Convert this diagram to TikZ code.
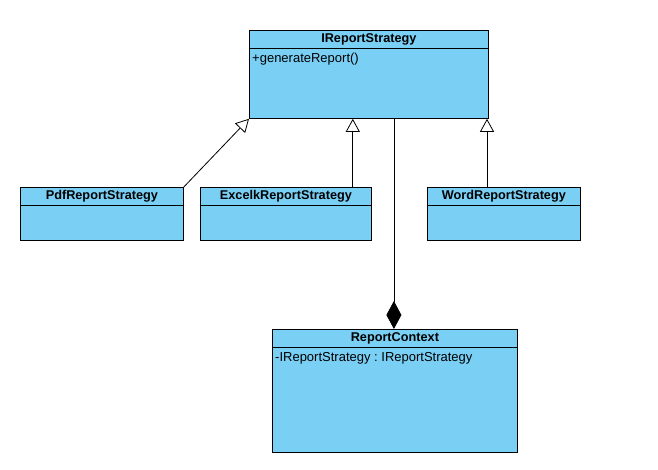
\documentclass[tikz,border=0pt]{standalone}
\usepackage{fontspec}
\setmainfont{Liberation Sans}
\usetikzlibrary{arrows.meta, positioning}
\definecolor{classblue}{RGB}{122,207,245}
\frenchspacing

\begin{document}
\begin{tikzpicture}[x=1pt, y=-1pt,
        cls/.style={draw, fill=classblue, line width=0.8pt, anchor=north west, inner sep=0pt},
        ctitle/.style={font=\fontsize{12.7}{14}\selectfont\bfseries, inner sep=0pt},
        cmember/.style={font=\fontsize{13}{15}\selectfont, anchor=north west, inner sep=0pt},
        hline/.style={line width=0.8pt},
        inherit/.style={-{Triangle[open, fill=white, length=13pt, width=14pt]}, line width=0.8pt},
        compose/.style={-{Diamond[length=28pt, width=15pt]}, line width=0.8pt},
    ]

    \path[use as bounding box, fill=white] (0,0) rectangle (658,469);

    % ---- Strategy interface ----
    \node[cls, minimum width=239pt, minimum height=88pt] (strategy) at (249,30) {};
    \node[ctitle] (strategy-name) at ([yshift=-9.5pt]strategy.north) {IReportStrategy};
    \draw[hline] ([yshift=-18pt]strategy.north west) -- ([yshift=-18pt]strategy.north east);
    \node[cmember] (strategy-op) at ([xshift=3pt, yshift=-23pt]strategy.north west) {+generateReport()};

    % ---- Concrete strategies ----
    \node[cls, minimum width=163pt, minimum height=53pt] (pdf) at (20,187) {};
    \node[ctitle] (pdf-name) at ([yshift=-9.5pt]pdf.north) {PdfReportStrategy};
    \draw[hline] ([yshift=-18pt]pdf.north west) -- ([yshift=-18pt]pdf.north east);

    \node[cls, minimum width=171pt, minimum height=53pt] (excel) at (200,187) {};
    \node[ctitle] (excel-name) at ([yshift=-9.5pt]excel.north) {ExcelkReportStrategy};
    \draw[hline] ([yshift=-18pt]excel.north west) -- ([yshift=-18pt]excel.north east);

    \node[cls, minimum width=153pt, minimum height=53pt] (word) at (427,187) {};
    \node[ctitle] (word-name) at ([yshift=-9.5pt]word.north) {WordReportStrategy};
    \draw[hline] ([yshift=-18pt]word.north west) -- ([yshift=-18pt]word.north east);

    % ---- Context ----
    \node[cls, minimum width=245pt, minimum height=123pt] (context) at (272,329) {};
    \node[ctitle] (context-name) at ([yshift=-9.5pt]context.north) {ReportContext};
    \draw[hline] ([yshift=-18pt]context.north west) -- ([yshift=-18pt]context.north east);
    \node[cmember] (context-attr) at ([xshift=3pt, yshift=-23pt]context.north west) {-IReportStrategy : IReportStrategy};

    % ---- Relations ----
    \draw[inherit] (pdf.north east) -- (strategy.south west);
    \draw[inherit] ([xshift=-19pt]excel.north east) -- ([xshift=-19pt]excel.north east |- strategy.south);
    \draw[inherit] ([xshift=60pt]word.north west) -- ([xshift=60pt]word.north west |- strategy.south);
    \draw[compose] ([xshift=-1pt]context.north |- strategy.south) -- ([xshift=-1pt]context.north);

\end{tikzpicture}
\end{document}
